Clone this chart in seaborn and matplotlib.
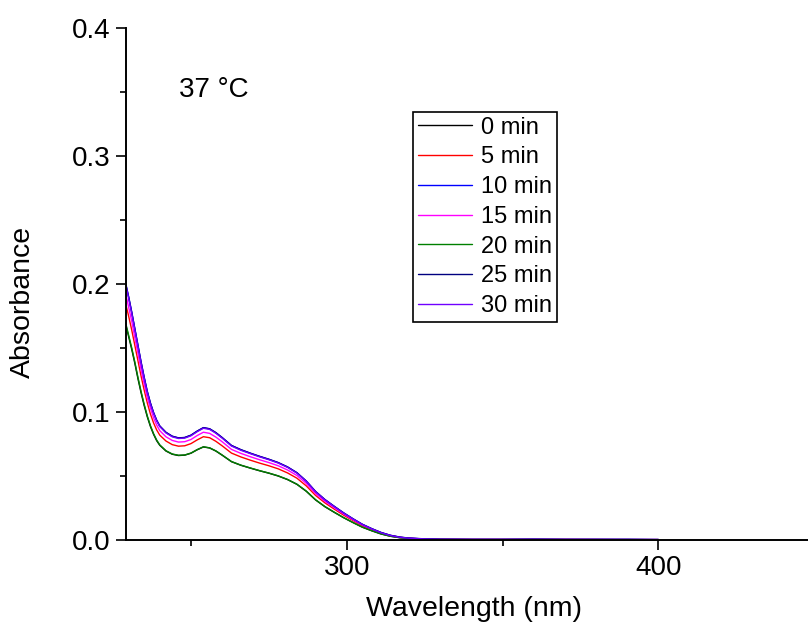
import matplotlib
matplotlib.use("Agg")
import matplotlib.pyplot as plt
import seaborn as sns
import pandas as pd

# ---- data ----
wavelength = [229, 230, 231, 232, 233, 234, 235, 236, 237, 238, 239, 240,
              242, 244, 246, 248, 250, 252, 254, 256, 258, 260, 263, 266, 269,
              272, 275, 278, 281, 284, 287, 290, 293, 296, 299,
              302, 305, 308, 311, 314, 317, 320, 325, 330, 340,
              350, 360, 370, 380, 390, 400]

abs_0min = [0.169, 0.159, 0.149, 0.138, 0.126, 0.115, 0.105, 0.0962, 0.0887, 0.0826, 0.0776, 0.0740,
            0.0695, 0.0670, 0.0660,
            0.0663, 0.0678, 0.0705, 0.0727, 0.0719, 0.0695, 0.0663, 0.0612, 0.0584, 0.0562,
            0.0541, 0.0522, 0.0500, 0.0472, 0.0435, 0.0381, 0.0313, 0.0260, 0.0216, 0.0174,
            0.0136, 0.0100, 0.0072, 0.0047, 0.0029, 0.0018, 0.0011, 0.0006, 0.0004, 0.0003,
            0.0003, 0.0003, 0.0003, 0.0003, 0.0002, 0.0002]
abs_5min = [0.185, 0.175, 0.164, 0.152, 0.140, 0.128, 0.117, 0.107, 0.0984, 0.0915, 0.0860, 0.0819,
            0.0773, 0.0745, 0.0733,
            0.0736, 0.0753, 0.0782, 0.0807, 0.0799, 0.0771, 0.0736, 0.0679, 0.0649, 0.0624,
            0.0601, 0.0580, 0.0556, 0.0524, 0.0483, 0.0423, 0.0348, 0.0290, 0.0241, 0.0194,
            0.0152, 0.0112, 0.0081, 0.0053, 0.0033, 0.0020, 0.0013, 0.0007, 0.0005, 0.0004,
            0.0004, 0.0004, 0.0004, 0.0003, 0.0003, 0.0003]
abs_10min = [0.201, 0.190, 0.178, 0.165, 0.152, 0.139, 0.127, 0.116, 0.107, 0.0995, 0.0935, 0.0890,
             0.0840, 0.0810, 0.0797,
             0.0800, 0.0818, 0.0850, 0.0877, 0.0868, 0.0838, 0.0800, 0.0738, 0.0705, 0.0678,
             0.0653, 0.0630, 0.0604, 0.0570, 0.0525, 0.0460, 0.0378, 0.0315, 0.0262, 0.0211,
             0.0165, 0.0122, 0.0088, 0.0058, 0.0036, 0.0022, 0.0014, 0.0008, 0.0005, 0.0004,
             0.0004, 0.0005, 0.0004, 0.0004, 0.0004, 0.0003]
abs_15min = [0.193, 0.182, 0.171, 0.158, 0.146, 0.133, 0.122, 0.111, 0.103, 0.0955, 0.0898, 0.0854,
             0.0806, 0.0778, 0.0765,
             0.0768, 0.0785, 0.0816, 0.0842, 0.0833, 0.0804, 0.0768, 0.0708, 0.0677, 0.0651,
             0.0627, 0.0605, 0.0580, 0.0547, 0.0504, 0.0442, 0.0363, 0.0302, 0.0252, 0.0203,
             0.0158, 0.0117, 0.0084, 0.0056, 0.0035, 0.0021, 0.0013, 0.0008, 0.0005, 0.0004,
             0.0004, 0.0004, 0.0004, 0.0004, 0.0003, 0.0003]
abs_20min = [0.170, 0.160, 0.150, 0.139, 0.127, 0.116, 0.106, 0.0969, 0.0893, 0.0831, 0.0781, 0.0743,
             0.0697, 0.0672, 0.0662,
             0.0664, 0.0679, 0.0706, 0.0728, 0.0720, 0.0696, 0.0664, 0.0613, 0.0585, 0.0563,
             0.0542, 0.0523, 0.0501, 0.0473, 0.0436, 0.0382, 0.0314, 0.0261, 0.0217, 0.0175,
             0.0137, 0.0101, 0.0073, 0.0048, 0.0030, 0.0018, 0.0012, 0.0007, 0.0004, 0.0003,
             0.0003, 0.0004, 0.0003, 0.0003, 0.0003, 0.0002]
abs_25min = [0.201, 0.190, 0.178, 0.165, 0.152, 0.139, 0.127, 0.116, 0.107, 0.0996, 0.0936, 0.0891,
             0.0841, 0.0811, 0.0798,
             0.0801, 0.0819, 0.0851, 0.0878, 0.0869, 0.0839, 0.0801, 0.0739, 0.0706, 0.0679,
             0.0654, 0.0631, 0.0605, 0.0571, 0.0526, 0.0461, 0.0379, 0.0316, 0.0263, 0.0212,
             0.0166, 0.0123, 0.0089, 0.0059, 0.0037, 0.0023, 0.0015, 0.0009, 0.0006, 0.0005,
             0.0005, 0.0006, 0.0005, 0.0005, 0.0005, 0.0004]
abs_30min = [0.200, 0.189, 0.177, 0.164, 0.151, 0.138, 0.126, 0.115, 0.106, 0.0990, 0.0930, 0.0886,
             0.0836, 0.0806, 0.0793,
             0.0796, 0.0814, 0.0846, 0.0873, 0.0864, 0.0834, 0.0796, 0.0734, 0.0701, 0.0675,
             0.0650, 0.0627, 0.0601, 0.0567, 0.0522, 0.0458, 0.0376, 0.0313, 0.0260, 0.0210,
             0.0164, 0.0121, 0.0087, 0.0057, 0.0035, 0.0021, 0.0014, 0.0008, 0.0005, 0.0004,
             0.0004, 0.0005, 0.0004, 0.0004, 0.0004, 0.0003]

series_labels = ["0 min", "5 min", "10 min", "15 min", "20 min", "25 min", "30 min"]
series_colors = ["#000000", "#ff0000", "#0000ff", "#ff00ff", "#008000", "#000080", "#7000ff"]
x_ticks = [300, 400]
y_ticks = [0.0, 0.1, 0.2, 0.3, 0.4]

all_series = [abs_0min, abs_5min, abs_10min, abs_15min, abs_20min, abs_25min, abs_30min]
frames = []
for lab, vals in zip(series_labels, all_series):
    frames.append(pd.DataFrame({"Wavelength": wavelength, "Absorbance": vals, "Time": lab}))
df = pd.concat(frames, ignore_index=True)

sns.set_theme(style="ticks")
plt.rcParams["font.family"] = ["Liberation Sans", "DejaVu Sans"]
plt.rcParams["text.color"] = "black"
plt.rcParams["axes.labelcolor"] = "black"
plt.rcParams["xtick.color"] = "black"
plt.rcParams["ytick.color"] = "black"

W, H = 808, 632
fig = plt.figure(figsize=(W / 100, H / 100), dpi=100)
ax = fig.add_axes([125.5 / W, 1 - 540 / H, (W - 125.5) / W, (540 - 28) / H])

palette = dict(zip(series_labels, series_colors))
sns.lineplot(data=df, x="Wavelength", y="Absorbance", hue="Time",
             hue_order=series_labels, palette=palette, linewidth=1.0,
             ax=ax, legend=True, sort=False)

# keep the navy 25-min trace on top of the near-identical 10/30-min traces
for ln in ax.lines:
    if ln.get_label() == "25 min":
        ln.set_zorder(2.6)

ax.set_xlim(229, 448)
ax.set_ylim(0, 0.4)
ax.set_xticks(x_ticks)
ax.set_xticks([250, 350], minor=True)
ax.set_yticks(y_ticks)
ax.set_yticks([0.05, 0.15, 0.25, 0.35], minor=True)
ax.set_yticklabels([f"{v:.1f}" for v in y_ticks])

for s in ["top", "right"]:
    ax.spines[s].set_visible(False)
for s in ["left", "bottom"]:
    ax.spines[s].set_linewidth(1.4)
    ax.spines[s].set_color("black")

ax.tick_params(axis="both", which="major", direction="out", length=7.5, width=1.2,
               labelsize=20, pad=3.5, colors="black")
ax.tick_params(axis="both", which="minor", direction="out", length=4.3, width=1.2,
               colors="black")

ax.set_xlabel("Wavelength (nm)", fontsize=20.5, color="black")
ax.set_ylabel("Absorbance", fontsize=20.5, color="black")
ax.xaxis.set_label_coords(0.51, -0.109)
ax.yaxis.set_label_coords(-0.131, 0.465)

ax.text(0.0784, 0.866, "37 \u00b0C", transform=ax.transAxes, fontsize=20,
        ha="left", va="baseline", color="black")

handles, labels = ax.get_legend_handles_labels()
for h in handles:
    h.set_linewidth(1.0)
leg = ax.legend(handles, labels, loc="lower left",
                bbox_to_anchor=(413 / W, 1 - 322 / H), bbox_transform=fig.transFigure,
                borderaxespad=0, fontsize=17, frameon=True, fancybox=False,
                edgecolor="black", framealpha=1, handlelength=2.3, handletextpad=0.4,
                labelspacing=0.33, borderpad=0.2)
leg.get_frame().set_linewidth(1.2)
for t in leg.get_texts():
    t.set_color("black")

fig.savefig("out.png", dpi=100)
